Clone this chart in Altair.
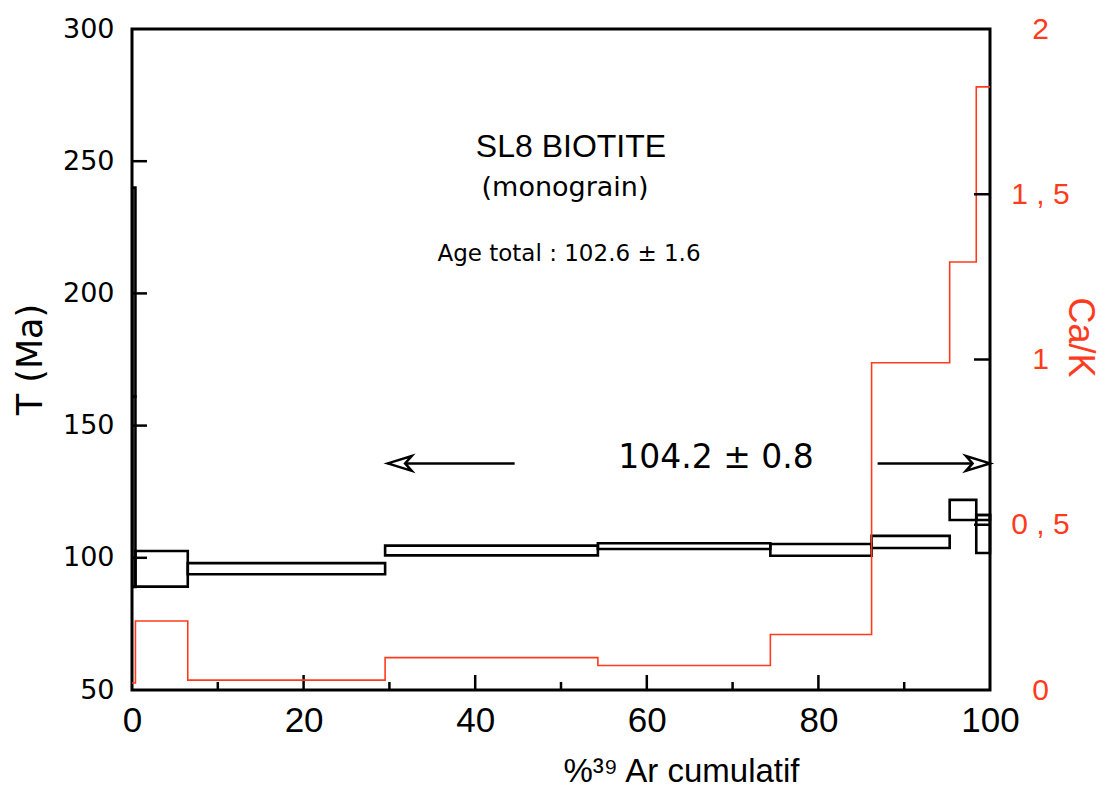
import altair as alt
import pandas as pd

# ---- Age spectrum steps: cumulative %39Ar bounds and age bounds (Ma) ----
step_x1 = [0.05, 0.05, 0.4, 6.5, 29.5, 54.3, 74.4, 86.2, 95.3, 98.4, 98.4]
step_x2 = [0.4, 0.4, 6.5, 29.5, 54.3, 74.4, 86.2, 95.3, 98.4, 100.0, 100.0]
age_lo = [161.0, 89.0, 89.1, 93.8, 100.9, 103.3, 100.8, 103.7, 114.3, 101.8, 114.3]
age_hi = [240.0, 161.0, 102.6, 98.0, 104.6, 105.5, 105.2, 108.3, 121.9, 116.2, 116.2]

# ---- Ca/K step curve ----
cak_x = [0.0, 0.4, 6.5, 29.5, 54.3, 74.4, 86.2, 95.3, 98.4, 100.0]
cak_val = [0.021, 0.209, 0.030, 0.098, 0.074, 0.168, 0.990, 1.295, 1.825, 1.825]

# ---- axis tick values ----
x_labels = [0, 20, 40, 60, 80, 100]
x_major = [20, 40, 60, 80]
x_minor = [10, 30, 50, 70, 90]
left_labels = [50, 100, 150, 200, 250, 300]
left_ticks = [100, 150, 200, 250]
right_labels = [0, 0.5, 1, 1.5, 2]
right_ticks = [0.5, 1, 1.5]

# ---- plateau arrows (plateau from 29.5 to 100 %) ----
arrow_start = [44.6, 86.9]
arrow_tip = [29.8, 100.0]
arrow_age = [135.7, 135.7]
arrow_angle = [180, 0]

W, H = 858, 661
RED = "#ff3b1d"
GOTHIC = "DejaVu Sans"
HELV = "Liberation Sans"

steps = pd.DataFrame({"x1": step_x1, "x2": step_x2, "lo": age_lo, "hi": age_hi})
cak = pd.DataFrame({"x": cak_x, "v": cak_val})
arrows = pd.DataFrame({"xs": arrow_start, "xe": arrow_tip, "y": arrow_age, "ang": arrow_angle})

xscale = alt.Scale(domain=[0, 100], nice=False, zero=False)
ylscale = alt.Scale(domain=[50, 300], nice=False, zero=False)
yrscale = alt.Scale(domain=[0, 2], nice=False, zero=False)

x_axis = alt.Axis(values=x_labels, ticks=False, tickSize=0, domain=False, grid=False,
                  labelFont=HELV, labelFontSize=35, labelPadding=13, labelColor="black",
                  labelFlush=False, labelOverlap=False,
                  title="%³⁹ Ar cumulatif", titleFont=HELV, titleFontSize=33,
                  titleFontWeight="normal", titleColor="black",
                  titleX=549, titleY=81, titleAlign="center", titleBaseline="middle")

left_axis = alt.Axis(values=left_labels, ticks=False, tickSize=0, domain=False, grid=False,
                     labelFont=GOTHIC, labelFontSize=27, labelPadding=18, labelColor="black",
                     labelFlush=False, labelOverlap=False, labelBaseline="middle",
                     title="T (Ma)", titleFont=GOTHIC, titleFontSize=35, titleFontWeight="normal",
                     titleColor="black", titleAngle=270, titleX=-102, titleY=330,
                     titleAlign="center", titleBaseline="middle")

right_axis = alt.Axis(orient="right", values=right_labels,
                      labelExpr="replace(format(datum.value, '~g'), '.', ' , ')",
                      ticks=False, tickSize=0, domain=False, grid=False,
                      labelFont=HELV, labelFontSize=30, labelColor=RED, labelAlign="center",
                      labelPadding=50, labelBaseline="middle", labelFlush=False, labelOverlap=False,
                      title="Ca/K", titleColor=RED, titleFont=HELV, titleFontSize=36,
                      titleFontWeight="normal", titleAngle=90, titleX=89, titleY=308,
                      titleAlign="center", titleBaseline="middle")


def X(field):
    return alt.X(field, type="quantitative", scale=xscale, axis=x_axis)


def YL(field):
    return alt.Y(field, type="quantitative", scale=ylscale, axis=left_axis)


def YR(field):
    return alt.Y(field, type="quantitative", scale=yrscale, axis=right_axis)


rects = alt.Chart(steps).mark_rect(fillOpacity=0, stroke="black", strokeWidth=2.6).encode(
    x=X("x1"), x2="x2", y=YL("lo"), y2="hi")

lt = alt.Chart(pd.DataFrame({"v": left_ticks})).mark_rule(color="black", strokeWidth=2.5).encode(
    y=YL("v"), x=alt.value(0), x2=alt.value(15))

xmaj = alt.Chart(pd.DataFrame({"v": x_major})).mark_rule(color="black", strokeWidth=2.5).encode(
    x=X("v"), y=alt.value(H - 15), y2=alt.value(H))
xmin = alt.Chart(pd.DataFrame({"v": x_minor})).mark_rule(color="black", strokeWidth=2.5).encode(
    x=X("v"), y=alt.value(H - 8), y2=alt.value(H))

arrow_lines = alt.Chart(arrows).mark_rule(color="black", strokeWidth=2.5).encode(
    x=X("xs"), x2="xe", y=YL("y"))
arrow_heads = alt.Chart(arrows).mark_point(
    shape="M 0 0 L -2 -0.62 L -1.45 0 L -2 0.62 Z", size=576, filled=True,
    fill="white", stroke="black", strokeWidth=2.5, opacity=1).encode(
    x=X("xe"), y=YL("y"), angle=alt.Angle("ang:Q", scale=None))


def label(text, x, y, font, size):
    return alt.Chart(pd.DataFrame({"t": [text]})).mark_text(
        font=font, fontSize=size, color="black", align="center", baseline="middle").encode(
        x=alt.value(x), y=alt.value(y), text="t:N")


t1 = label("SL8 BIOTITE", 439, 118, HELV, 32)
t2 = label("(monograin)", 433, 159, GOTHIC, 27)
t3 = label("Age total : 102.6 ± 1.6", 437, 225, GOTHIC, 23)
t4 = label("104.2 ± 0.8", 584, 429, GOTHIC, 33)

left = alt.layer(rects, lt, xmaj, xmin, arrow_lines, arrow_heads, t1, t2, t3, t4)

red_line = alt.Chart(cak).mark_line(interpolate="step-after", color=RED, strokeWidth=1.6).encode(
    x=X("x"), y=YR("v"))
rt = alt.Chart(pd.DataFrame({"v": right_ticks})).mark_rule(color="black", strokeWidth=2.5).encode(
    y=YR("v"), x=alt.value(W - 16), x2=alt.value(W))

right = alt.layer(red_line, rt)

chart = alt.layer(left, right).resolve_scale(y="independent").properties(
    width=W, height=H,
    padding={"left": 124, "top": 21, "right": 110, "bottom": 100},
    autosize=alt.AutoSizeParams(type="none"),
    background="white",
).configure_view(stroke="black", strokeWidth=3)

chart.save("out.html", embed_options={"renderer": "svg", "actions": False})
